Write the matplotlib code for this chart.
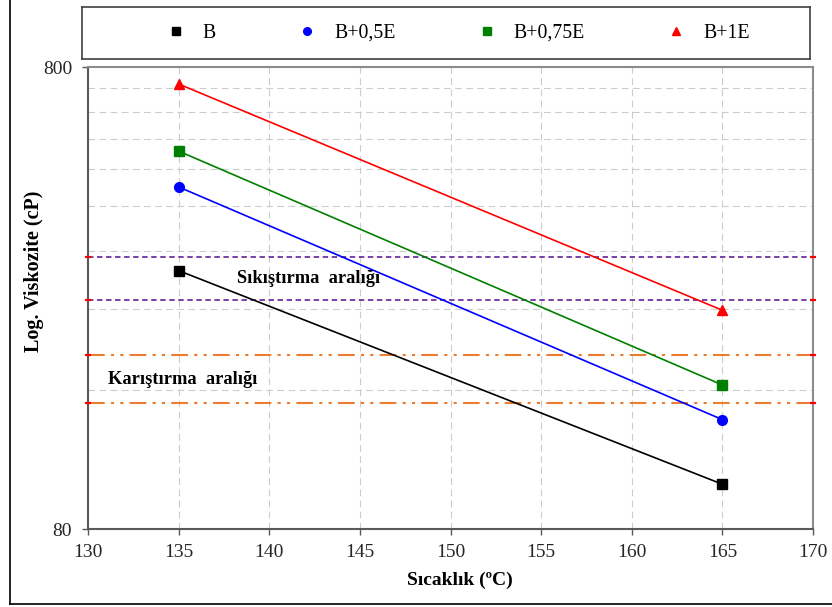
import matplotlib
matplotlib.use("Agg")
import matplotlib.pyplot as plt
from matplotlib.lines import Line2D
from matplotlib.ticker import FixedLocator, NullFormatter

plt.rcParams["font.family"] = ["Liberation Serif", "DejaVu Serif"]

# data
temps = [135, 165]
series_names = ["B", "B+0,5E", "B+0,75E", "B+1E"]
visc_B = [290, 100]
visc_B05E = [440, 138]
visc_B075E = [526, 164]
visc_B1E = [735, 238]
compaction_range = [250, 310]
mixing_range = [150, 190]
x_limits = [130, 170]
y_limits = [80, 800]
y_grid = [160, 240, 320, 400, 480, 560, 640, 720]

W, H = 832, 607
fig = plt.figure(figsize=(W / 100, H / 100), dpi=100)


def px_box(x0, y0, x1, y1):
    return [x0 / W, 1 - y1 / H, (x1 - x0) / W, (y1 - y0) / H]


ax = fig.add_axes(px_box(88, 67, 813, 529))
ax.set_yscale("log")
ax.set_xlim(x_limits)
ax.set_ylim(y_limits)

ax.set_xticks(range(130, 171, 5))
ax.set_yticks(y_limits)
ax.set_yticklabels([str(v) for v in y_limits])
ax.yaxis.set_minor_locator(FixedLocator(y_grid))
ax.yaxis.set_minor_formatter(NullFormatter())
ax.tick_params(axis="y", which="minor", length=0)
ax.tick_params(which="major", direction="out", length=4.5, width=1.0,
               color="#595959", labelsize=14, labelcolor="#262626")
ax.tick_params(axis="y", pad=7)
ax.tick_params(axis="x", pad=6)

ax.grid(True, axis="x", which="major", color="#cccccc", lw=0.8, ls=(0, (6, 4)))
ax.grid(True, axis="y", which="minor", color="#cccccc", lw=0.8, ls=(0, (6, 4)))
ax.set_axisbelow(True)

for side in ["top", "right"]:
    ax.spines[side].set_color("#8c8c8c")
    ax.spines[side].set_linewidth(1.5)
for side in ["left", "bottom"]:
    ax.spines[side].set_color("#5a5a5a")
    ax.spines[side].set_linewidth(1.5)

# range lines
for v in compaction_range:
    ax.plot(x_limits, [v, v], color="#7030a0", lw=1.3, ls=(0, (3, 2)), zorder=2)
    ax.plot(x_limits, [v, v], ls="none", marker="_", ms=5, mew=1.6,
            color="red", clip_on=False, zorder=4)
for v in mixing_range:
    ax.plot(x_limits, [v, v], color="#ed7d31", lw=1.5,
            ls=(0, (8, 3, 1.5, 3, 1.5, 3)), zorder=2)
    ax.plot(x_limits, [v, v], ls="none", marker="_", ms=5, mew=1.6,
            color="red", clip_on=False, zorder=4)

# data series
styles = [
    (visc_B, "black", "s", 7),
    (visc_B05E, "blue", "o", 7),
    (visc_B075E, "green", "s", 7),
    (visc_B1E, "red", "^", 7.5),
]
handles = []
for (vals, color, marker, ms), name in zip(styles, series_names):
    ax.plot(temps, vals, color=color, lw=1.2, marker=marker, ms=ms, zorder=3)
    handles.append(Line2D([], [], ls="none", marker=marker, color=color,
                          ms=5.5, label=name))

# range annotations
comp_mid = (compaction_range[0] * compaction_range[1]) ** 0.5
mix_mid = (mixing_range[0] * mixing_range[1]) ** 0.5
ax.text(138.2, comp_mid, "Sıkıştırma  aralığı", fontsize=13.2,
        fontweight="bold", va="center", ha="left")
ax.text(131.1, mix_mid, "Karıştırma  aralığı", fontsize=13.2,
        fontweight="bold", va="center", ha="left")

# axis labels
fig.text(460 / W, 1 - 580 / H, "Sıcaklık (ºC)", fontsize=14,
         fontweight="bold", ha="center", va="center")
fig.text(34 / W, 1 - 271 / H, "Log. Viskozite (cP)", fontsize=14.5,
         fontweight="bold", ha="center", va="center", rotation=90)

# legend box
lax = fig.add_axes(px_box(82, 7, 810, 59))
lax.set_xticks([])
lax.set_yticks([])
for s in lax.spines.values():
    s.set_color("#404040")
    s.set_linewidth(1.2)
lax.legend(handles=handles, loc="center", bbox_to_anchor=(0.516, 0.5),
           ncol=4, frameon=False, fontsize=14.3, handlelength=1.0,
           handletextpad=0.85, columnspacing=4.1)

# outer frame (left and bottom edges)
fig.add_artist(Line2D([9.5 / W, 9.5 / W], [1 - 604 / H, 1], color="black", lw=1.2))
fig.add_artist(Line2D([9.5 / W, 1], [1 - 604 / H, 1 - 604 / H], color="black", lw=1.2))

fig.savefig("out.png", dpi=100)
